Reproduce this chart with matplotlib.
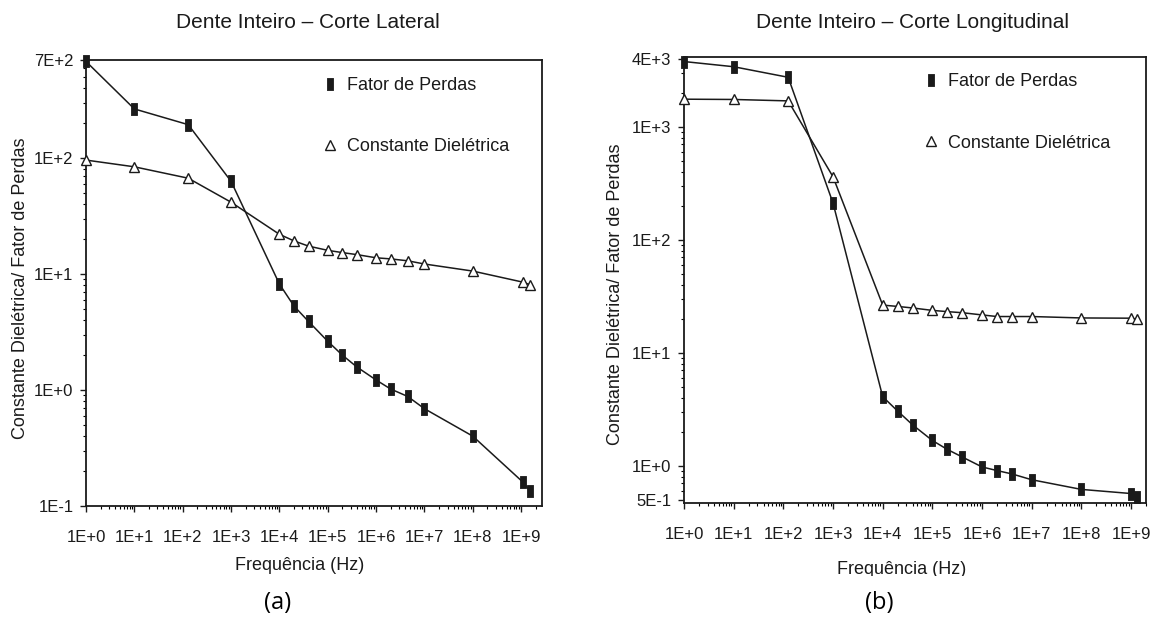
import numpy as np
import matplotlib.pyplot as plt
from matplotlib.lines import Line2D
from matplotlib.patches import Rectangle
from matplotlib.ticker import FixedLocator, LogLocator, NullFormatter

plt.rcParams['font.family'] = ['Liberation Sans', 'DejaVu Sans']

# Frequencies (Hz), same sweep for both samples
freq_a = [1, 10, 130, 1e3, 1e4, 2e4, 4e4, 1e5, 2e5, 4e5, 1e6, 2e6, 4.5e6, 1e7, 1e8, 1.1e9, 1.5e9]
freq_b = [1, 10, 125, 1e3, 1e4, 2e4, 4e4, 1e5, 2e5, 4e5, 1e6, 2e6, 4e6, 1e7, 1e8, 1e9, 1.3e9]

# (a) Dente Inteiro - Corte Lateral
perdas_a = [680, 265, 194, 63, 8.2, 5.3, 3.9, 2.63, 2.0, 1.58, 1.22, 1.02, 0.88, 0.69, 0.40, 0.16, 0.136]
dieletrica_a = [96, 84, 67, 41.6, 22, 19.3, 17.4, 16, 15.3, 14.7, 13.8, 13.5, 13, 12.2, 10.6, 8.5, 8.1]

# (b) Dente Inteiro - Corte Longitudinal
perdas_b = [3790, 3410, 2750, 212, 4.1, 3.06, 2.31, 1.68, 1.40, 1.20, 0.98, 0.91, 0.85, 0.755, 0.62, 0.57, 0.53]
dieletrica_b = [1760, 1750, 1700, 362, 26.5, 25.8, 25, 23.8, 23.2, 22.7, 21.7, 21.0, 21.0, 21.0, 20.4, 20.3, 19.8]

x_ticks = [1e0, 1e1, 1e2, 1e3, 1e4, 1e5, 1e6, 1e7, 1e8, 1e9]
x_tick_labels = ['1E+0', '1E+1', '1E+2', '1E+3', '1E+4', '1E+5', '1E+6', '1E+7', '1E+8', '1E+9']
y_ticks_a = [0.1, 1, 10, 100, 700]
y_tick_labels_a = ['1E-1', '1E+0', '1E+1', '1E+2', '7E+2']
y_ticks_b = [0.5, 1, 10, 100, 1000, 4000]
y_tick_labels_b = ['5E-1', '1E+0', '1E+1', '1E+2', '1E+3', '4E+3']

ink = '#1a1a1a'
# tall narrow filled rectangle, like the scanned markers
rect = [(-0.24, -0.5), (0.24, -0.5), (0.24, 0.5), (-0.24, 0.5), (-0.24, -0.5)]
sq_style = dict(marker=rect, markersize=8.5, color=ink, markerfacecolor=ink, markeredgewidth=0.6)
tri_style = dict(marker='^', markersize=6.5, color=ink, markerfacecolor='white', markeredgewidth=1.0)

W, H = 1154, 621
fig = plt.figure(figsize=(W / 100, H / 100), dpi=100)
ax_a = fig.add_axes([86 / W, 1 - 506 / H, 456 / W, 446 / H])
ax_b = fig.add_axes([684 / W, 1 - 503 / H, 462 / W, 446.5 / H])


def style_axis(ax, xlim, ylim, yticks, ylabels):
    ax.set_xscale('log')
    ax.set_yscale('log')
    ax.set_xlim(*xlim)
    ax.set_ylim(*ylim)
    ax.xaxis.set_major_locator(FixedLocator(x_ticks))
    ax.set_xticklabels(x_tick_labels)
    ax.xaxis.set_minor_locator(LogLocator(base=10, subs=np.arange(2, 10), numticks=100))
    ax.xaxis.set_minor_formatter(NullFormatter())
    ax.yaxis.set_major_locator(FixedLocator(yticks))
    ax.set_yticklabels(ylabels)
    ax.yaxis.set_minor_locator(LogLocator(base=10, subs=np.arange(2, 10), numticks=100))
    ax.yaxis.set_minor_formatter(NullFormatter())
    ax.tick_params(axis='both', which='major', direction='out', length=4, width=1,
                   labelsize=12, colors=ink)
    ax.tick_params(axis='both', which='minor', direction='out', length=2.5, width=0.8)
    ax.tick_params(axis='x', which='major', pad=13)
    ax.tick_params(axis='y', which='major', pad=5)
    for s in ax.spines.values():
        s.set_linewidth(1.3)
        s.set_color(ink)


def draw(ax, freq, perdas, dieletrica):
    ax.plot(freq, perdas, lw=1.1, clip_on=False, zorder=3, **sq_style)
    ax.plot(freq, dieletrica, lw=1.1, clip_on=False, zorder=3, **tri_style)
    handles = [Line2D([], [], linestyle='none', **sq_style),
               Line2D([], [], linestyle='none', **tri_style)]
    ax.legend(handles, ['Fator de Perdas', 'Constante Dielétrica'], loc='upper left',
              bbox_to_anchor=(0.515, 0.962), frameon=False, fontsize=13,
              labelspacing=2.45, handlelength=1.0, handletextpad=0.45,
              borderpad=0, borderaxespad=0, labelcolor=ink)


draw(ax_a, freq_a, perdas_a, dieletrica_a)
style_axis(ax_a, (1, 2.7e9), (0.1, 700), y_ticks_a, y_tick_labels_a)
draw(ax_b, freq_b, perdas_b, dieletrica_b)
style_axis(ax_b, (1, 2.0e9), (0.47, 4200), y_ticks_b, y_tick_labels_b)

txt = dict(color=ink, ha='center', va='center', fontsize=13)
fig.text(308 / W, 1 - 23 / H, 'Dente Inteiro – Corte Lateral', color=ink, ha='center', va='center', fontsize=15)
fig.text(912 / W, 1 - 23 / H, 'Dente Inteiro – Corte Longitudinal', color=ink, ha='center', va='center', fontsize=15)
fig.text(21 / W, 1 - 288 / H, 'Constante Dielétrica/ Fator de Perdas', rotation=90, **txt)
fig.text(616 / W, 1 - 294 / H, 'Constante Dielétrica/ Fator de Perdas', rotation=90, **txt)
fig.text(300 / W, 1 - 565 / H, 'Frequência (Hz)', **txt)
fig.text(902 / W, 1 - 570 / H, 'Frequência (Hz)', **txt)

# the scan cuts off the bottom of the right x label
fig.add_artist(Rectangle((580 / W, 1 - 590 / H), 574 / W, 14 / H, transform=fig.transFigure,
                         facecolor='white', edgecolor='none', zorder=10))

fig.text(278 / W, 1 - 603 / H, '(a)', ha='center', va='center', fontsize=17,
         family=['Open Sans', 'DejaVu Sans'], color='black')
fig.text(879 / W, 1 - 603 / H, '(b)', ha='center', va='center', fontsize=17,
         family=['Open Sans', 'DejaVu Sans'], color='black')

fig.savefig('out.png', dpi=100, facecolor='white')
